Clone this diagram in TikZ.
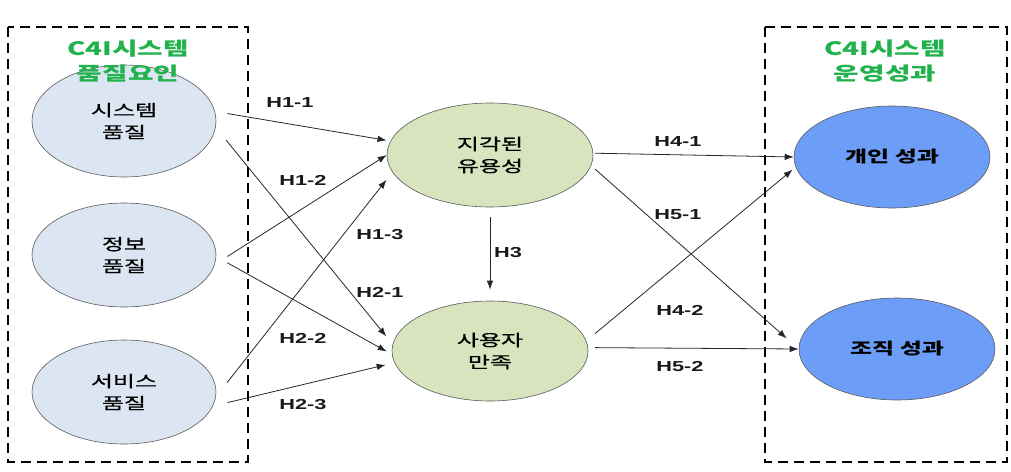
\documentclass[tikz,border=0pt]{standalone}
\usepackage{fontspec}
\newfontfamily\krfont{Noto Sans CJK KR}[FakeStretch=1.5]
\newfontfamily\krmid{Noto Sans CJK KR}[FakeStretch=1.5, FakeBold=0.7]
\newfontfamily\hfont{Liberation Sans}[FakeStretch=1.5]
\usetikzlibrary{arrows.meta, shapes.geometric}

\definecolor{qualfill}{HTML}{DCE6F2}
\definecolor{mediafill}{HTML}{D7E4BD}
\definecolor{outfill}{HTML}{6D9EF7}
\definecolor{titlegreen}{HTML}{22B24C}
\definecolor{rimgray}{HTML}{5A5A5A}

\begin{document}
\begin{tikzpicture}[
    x=1pt, y=-1pt,
    factor/.style={ellipse, draw=rimgray, semithick, fill=qualfill,
                   minimum width=184pt, minimum height=104pt, inner sep=0pt,
                   align=center, font=\krmid\fontsize{16}{22}\selectfont},
    mediator/.style={factor, fill=mediafill, minimum width=206pt},
    outcome/.style={factor, fill=outfill, minimum width=196pt, minimum height=102pt,
                    font=\krfont\bfseries\fontsize{16}{22}\selectfont},
    hyp/.style={-{Latex[length=9pt,width=6.5pt]}, draw=black!85, line width=0.8pt},
    hlabel/.style={font=\hfont\bfseries\fontsize{14.5}{16}\selectfont, text=black!90},
    group/.style={draw, dash pattern=on 10pt off 6pt, line width=1.8pt},
    grouptitle/.style={align=center, text=titlegreen,
                       font=\krfont\bfseries\fontsize{18.5}{25}\selectfont},
]
\useasboundingbox (0,0) rectangle (1011,471);

% --- Group frames ---
\draw[group] (8,27) rectangle (248,462);
\draw[group] (765,27) rectangle (1007,462);

% --- Quality factors ---
\node[factor, minimum height=112pt] (sys) at (124,121) {시스템\\품질};
\node[factor] (info) at (124,255) {정보\\품질};
\node[factor] (serv) at (124,392) {서비스\\품질};

% --- Mediators ---
\node[mediator] (pu) at (490,155) {지각된\\유용성};
\node[mediator, minimum width=196pt, minimum height=100pt] (us) at (490,351) {사용자\\만족};

% --- Outcomes ---
\node[outcome] (ind) at (892,157) {개인 성과};
\node[outcome] (org) at (897,349) {조직 성과};

% --- Group titles ---
\node[grouptitle] (qtitle) at (128,61) {C4I시스템\\품질요인};
\node[grouptitle] (otitle) at (885,61) {C4I시스템\\운영성과};

% --- Hypotheses H1, H2 ---
\draw[hyp, shorten <=12.7pt, shorten >=4pt] (sys.6) -- (pu.172);
\draw[hyp, shorten <=16.6pt, shorten >=10pt] (sys.-4) -- (us.176);
\draw[hyp, shorten <=15pt] (info.-6.5) -- (pu.180);
\draw[hyp, shorten <=12.6pt, shorten >=6pt] (info.-1) -- (us.182);
\draw[hyp, shorten <=18pt, shorten >=9.6pt] (serv.-3) -- (pu.190);
\draw[hyp, shorten <=15pt, shorten >=9pt] (serv.-9) -- (us.187);

% --- Hypothesis H3 ---
\draw[hyp, shorten <=10pt, shorten >=11pt] (pu.south) -- (us.north);

% --- Hypotheses H4, H5 ---
\draw[hyp, shorten <=2pt] (pu.1) -- (ind.180);
\draw[hyp, shorten <=5.3pt, shorten >=16pt] (pu.-6) -- (org.180);
\draw[hyp, shorten <=11.5pt, shorten >=4pt] (us.6) -- (ind.186);
\draw[hyp, shorten <=7pt] (us.2) -- (org.180);

% --- Labels ---
\node[hlabel] (h11) at (290,103) {H1-1};
\node[hlabel] (h12) at (303,180) {H1-2};
\node[hlabel] (h13) at (380,235) {H1-3};
\node[hlabel] (h21) at (380,292) {H2-1};
\node[hlabel] (h22) at (303,338) {H2-2};
\node[hlabel] (h23) at (303,405) {H2-3};
\node[hlabel] (h3) at (508,253) {H3};
\node[hlabel] (h41) at (678,142) {H4-1};
\node[hlabel] (h51) at (678,215) {H5-1};
\node[hlabel] (h42) at (680,310) {H4-2};
\node[hlabel] (h52) at (680,367) {H5-2};

\end{tikzpicture}
\end{document}
